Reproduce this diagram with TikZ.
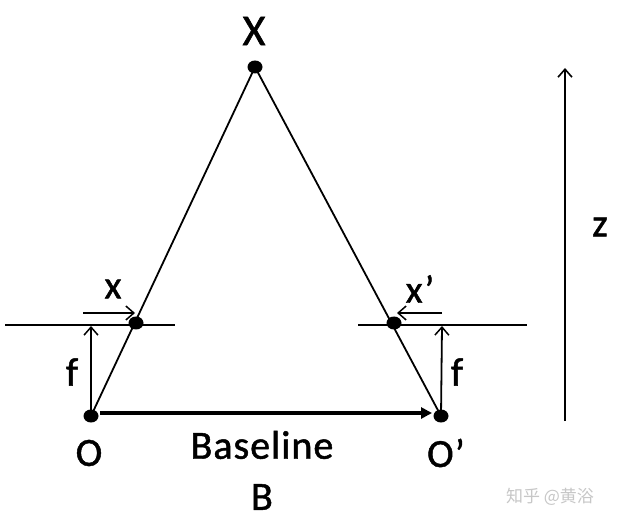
\documentclass[tikz,border=0pt]{standalone}
\usepackage{fontspec}
\setmainfont{Carlito}[FakeBold=1.2,LetterSpace=2.5]
\newfontfamily\cjk{Noto Sans CJK SC}
\usetikzlibrary{arrows.meta,shapes.geometric}
\begin{document}
\begin{tikzpicture}[x=1pt,y=-1pt,
  thinline/.style={line width=1.8pt},
  dotnode/.style={ellipse,fill=black,minimum width=15pt,minimum height=13pt,inner sep=0pt},
  lbl/.style={font=\fontsize{40}{42}\selectfont,inner sep=0pt},
  smlbl/.style={font=\fontsize{39}{41}\selectfont,inner sep=0pt},
  openarrow/.style={thinline,-{Straight Barb[length=8pt,width=14pt,line width=1.5pt]}}]
\useasboundingbox (0,0) rectangle (618,526);
\fill[white] (0,0) rectangle (618,526);
% points
\node[dotnode] (X) at (255,67) {};
\node[dotnode] (O) at (91,416) {};
\node[dotnode] (Op) at (441,416) {};
\node[dotnode] (L) at (136,323) {};
\node[dotnode] (R) at (394,323) {};
% image planes
\coordinate (pl1) at (5,325);
\coordinate (pl2) at (175,325);
\coordinate (pr1) at (358,325);
\coordinate (pr2) at (527,325);
\draw[thinline] (pl1) -- (pl2);
\draw[thinline] (pr1) -- (pr2);
% rays
\draw[thinline] (O.center) -- (X.center);
\draw[thinline] (Op.center) -- (X.center);
% f arrows
\coordinate (fl) at (91,326);
\coordinate (fr) at (442,326);
\draw[openarrow] (O.center) -- (fl);
\draw[openarrow] (Op.center) -- (fr);
% x arrows
\coordinate (xa1) at (83,313);
\coordinate (xa2) at (135,313);
\coordinate (xb1) at (442,313);
\coordinate (xb2) at (397,313);
\draw[openarrow] (xa1) -- (xa2);
\draw[openarrow] (xb1) -- (xb2);
% baseline
\coordinate (b1) at (100,413);
\coordinate (b2) at (432,413);
\draw[line width=3.5pt,-{Triangle[length=11pt,width=11pt]}] (b1) -- (b2);
% z axis
\coordinate (z1) at (565,421);
\coordinate (z2) at (565,68);
\draw[line width=2pt,-{Straight Barb[length=8pt,width=14pt,line width=1.6pt]}] (z1) -- (z2);
% labels
\node[font=\fontsize{44}{46}\selectfont,inner sep=0pt] (tX) at (254,31) {X};
\node[smlbl] (tx) at (113,289) {x};
\node[smlbl] (txp) at (420,289) {x’};
\node[lbl] (tf1) at (72,372) {f};
\node[lbl] (tf2) at (457,372) {f};
\node[lbl] (tO) at (89,453) {O};
\node[lbl] (tOp) at (446,453) {O’};
\node[lbl] (tBase) at (262,445) {Baseline};
\node[lbl] (tB) at (262,497) {B};
\node[smlbl] (tz) at (600,227) {z};
\node[font=\cjk\fontsize{17}{19}\selectfont,text=black!22,inner sep=0pt] (wm) at (550,497) {知乎 @黄浴};
\end{tikzpicture}
\end{document}
